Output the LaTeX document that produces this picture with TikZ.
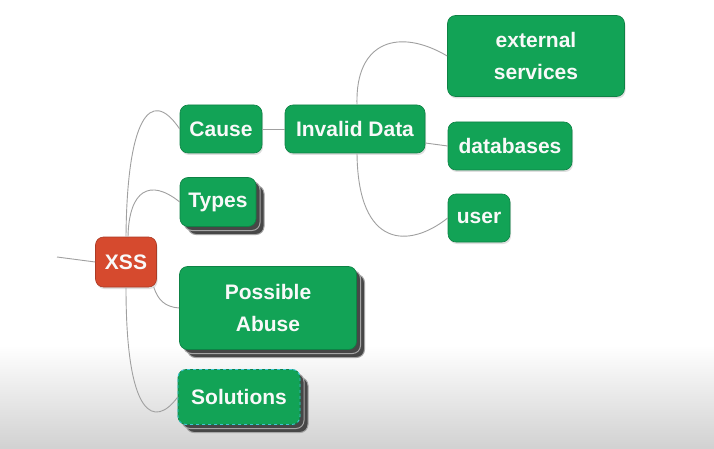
\documentclass[tikz,border=0pt]{standalone}
\usepackage{fontspec}
\setmainfont{Liberation Sans}
\usetikzlibrary{shadows}
\definecolor{mmgreen}{RGB}{18,163,86}
\definecolor{mmred}{RGB}{214,74,46}
\definecolor{mmline}{RGB}{160,160,160}
\definecolor{mmteal}{RGB}{60,200,210}
\begin{document}
\begin{tikzpicture}[x=1pt,y=-1pt,
  box/.style={rounded corners=8pt, fill=mmgreen, draw=mmgreen!80!black, line width=0.6pt,
    text=white!95!gray, font=\fontsize{21}{32}\selectfont\bfseries, align=center,
    inner sep=0pt, drop shadow={opacity=0.25, shadow xshift=1pt, shadow yshift=-2pt}},
  stackbox/.style={rounded corners=8pt, fill=mmgreen, draw=mmgreen!80!black, line width=0.6pt,
    text=white!95!gray, font=\fontsize{21}{32}\selectfont\bfseries, align=center,
    inner sep=0pt, double copy shadow={shadow xshift=4pt, shadow yshift=-4pt, fill=black!72, draw=gray!70, line width=1pt}},
  root/.style={box, fill=mmred, draw=mmred!80!black},
  conn/.style={draw=mmline, line width=0.9pt}
]
\useasboundingbox (0,0) rectangle (714,449);
\fill[white] (0,0) rectangle (714,449);
\shade[top color=white, bottom color=gray!36] (0,345) rectangle (714,449);

% nodes
\node[root, minimum width=61pt, minimum height=50pt] (xss) at (126,262) {XSS};
\node[box, minimum width=82pt, minimum height=48pt] (cause) at (221,129) {Cause};
\node[box, minimum width=140pt, minimum height=48pt] (invalid) at (355,129) {Invalid Data};
\node[box, minimum width=177pt, minimum height=81pt] (ext) at (536,56) {external\\services};
\node[box, minimum width=124pt, minimum height=48pt] (db) at (510,146) {databases};
\node[box, minimum width=62pt, minimum height=48pt] (user) at (479,218) {user};
\node[stackbox, minimum width=76pt, minimum height=49pt] (types) at (218,202) {Types};
\node[stackbox, minimum width=177pt, minimum height=83pt] (abuse) at (268,308) {Possible\\Abuse};
\node[stackbox, postaction={draw=mmteal, dashed, line width=0.9pt}, minimum width=122pt, minimum height=55pt] (sol) at (239,397) {Solutions};
\coordinate (stub) at (57,257);

% connectors
\draw[conn] (stub) -- (xss.west);
\draw[conn] (xss.north) .. controls (127,120) and (150,85) .. (cause.west);
\draw[conn] ([xshift=2pt]xss.north) .. controls (129,190) and (150,178) .. (types.west);
\draw[conn] ([xshift=-3pt]xss.south east) .. controls (158,300) and (165,307) .. (abuse.west);
\draw[conn] (xss.south) .. controls (126,420) and (155,428) .. (sol.west);
\draw[conn] (cause.east) -- (invalid.west);
\draw[conn] ([xshift=2pt]invalid.north) .. controls (355,40) and (400,28) .. (ext.west);
\draw[conn] ([yshift=-14pt]invalid.east) -- (db.west);
\draw[conn] ([xshift=2pt]invalid.south) .. controls (358,250) and (410,248) .. (user.west);
\end{tikzpicture}
\end{document}
